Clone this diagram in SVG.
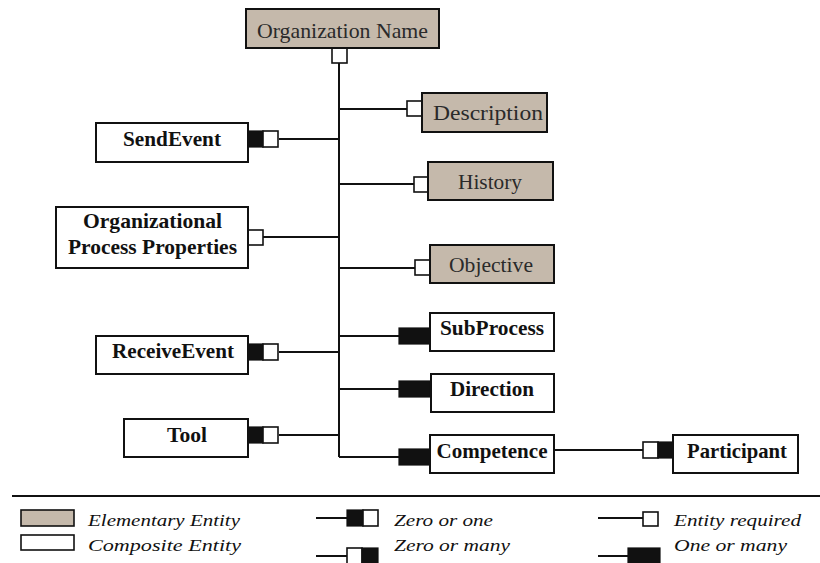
<svg xmlns="http://www.w3.org/2000/svg" width="820" height="563" viewBox="0 0 820 563">
  <style>
    .elem { fill: #c5b9ab; stroke: #111; stroke-width: 2; }
    .comp { fill: #fff; stroke: #111; stroke-width: 2; }
    .open { fill: #fff; stroke: #111; stroke-width: 1.6; }
    .solid { fill: #111; stroke: #111; stroke-width: 1.2; }
    .wire { stroke: #111; stroke-width: 2; fill: none; }
    .lbl { font-family: 'Liberation Serif', Tinos, 'Times New Roman', Times, serif; font-size: 22px; fill: #2a2a2a; text-anchor: middle; }
    .blbl { font-family: 'Liberation Serif', Tinos, 'Times New Roman', Times, serif; font-size: 21px; font-weight: bold; fill: #111; text-anchor: middle; }
    .key { font-family: 'Liberation Serif', Tinos, 'Times New Roman', Times, serif; font-size: 16px; font-style: italic; fill: #111; }
  </style>

  <!-- connectors -->
  <g id="connectors">
    <path class="wire" d="M339 63 V457"/>
    <path class="wire" d="M339 109 H407"/>
    <path class="wire" d="M279 139 H339"/>
    <path class="wire" d="M339 184 H414"/>
    <path class="wire" d="M263 237 H339"/>
    <path class="wire" d="M339 268 H415"/>
    <path class="wire" d="M339 336 H399"/>
    <path class="wire" d="M279 352 H339"/>
    <path class="wire" d="M339 389 H399"/>
    <path class="wire" d="M279 435 H339"/>
    <path class="wire" d="M339 457 H399"/>
    <path class="wire" d="M554 450 H643"/>
    <!-- cardinality marks -->
    <rect class="open" x="332" y="48" width="15" height="15"/>
    <rect class="open" x="407" y="101" width="15" height="15"/>
    <rect class="solid" x="248" y="131" width="15" height="16"/>
    <rect class="open" x="263" y="131" width="15" height="16"/>
    <rect class="open" x="414" y="177" width="14" height="15"/>
    <rect class="open" x="248" y="230" width="15" height="15"/>
    <rect class="open" x="415" y="260" width="15" height="15"/>
    <rect class="solid" x="399" y="328" width="31" height="16"/>
    <rect class="solid" x="248" y="344" width="15" height="16"/>
    <rect class="open" x="263" y="344" width="15" height="16"/>
    <rect class="solid" x="399" y="381" width="31" height="16"/>
    <rect class="solid" x="248" y="427" width="15" height="16"/>
    <rect class="open" x="263" y="427" width="15" height="16"/>
    <rect class="solid" x="399" y="449" width="31" height="16"/>
    <rect class="open" x="643" y="442" width="15" height="16"/>
    <rect class="solid" x="658" y="442" width="15" height="16"/>
  </g>

  <g id="organization-name">
    <rect class="elem" x="246" y="9" width="193" height="39"/>
    <text class="lbl" x="342.5" y="37.5" textLength="171" lengthAdjust="spacingAndGlyphs">Organization Name</text>
  </g>
  <g id="description">
    <rect class="elem" x="422" y="93" width="125" height="39"/>
    <text class="lbl" x="488" y="119.5" textLength="110" lengthAdjust="spacingAndGlyphs">Description</text>
  </g>
  <g id="history">
    <rect class="elem" x="428" y="162" width="125" height="38"/>
    <text class="lbl" x="490" y="188.5" textLength="64" lengthAdjust="spacingAndGlyphs">History</text>
  </g>
  <g id="objective">
    <rect class="elem" x="430" y="245" width="124" height="38"/>
    <text class="lbl" x="491" y="271.5" textLength="84" lengthAdjust="spacingAndGlyphs">Objective</text>
  </g>
  <g id="subprocess">
    <rect class="comp" x="430" y="313" width="124" height="38"/>
    <text class="blbl" x="492" y="334.5" textLength="104" lengthAdjust="spacingAndGlyphs">SubProcess</text>
  </g>
  <g id="direction">
    <rect class="comp" x="431" y="374" width="123" height="38"/>
    <text class="blbl" x="492" y="395.5" textLength="84" lengthAdjust="spacingAndGlyphs">Direction</text>
  </g>
  <g id="competence">
    <rect class="comp" x="430" y="435" width="124" height="38"/>
    <text class="blbl" x="492" y="457.5" textLength="111" lengthAdjust="spacingAndGlyphs">Competence</text>
  </g>
  <g id="participant">
    <rect class="comp" x="673" y="435" width="125" height="38"/>
    <text class="blbl" x="737" y="457.5" textLength="100" lengthAdjust="spacingAndGlyphs">Participant</text>
  </g>
  <g id="send-event">
    <rect class="comp" x="96" y="123" width="152" height="39"/>
    <text class="blbl" x="172" y="145.5" textLength="98" lengthAdjust="spacingAndGlyphs">SendEvent</text>
  </g>
  <g id="organizational-process-properties">
    <rect class="comp" x="56" y="207" width="192" height="61"/>
    <text class="blbl" x="152.5" y="227.5" textLength="139" lengthAdjust="spacingAndGlyphs">Organizational</text>
    <text class="blbl" x="152.5" y="253.5" textLength="169" lengthAdjust="spacingAndGlyphs">Process Properties</text>
  </g>
  <g id="receive-event">
    <rect class="comp" x="96" y="336" width="152" height="38"/>
    <text class="blbl" x="173" y="357.5" textLength="122" lengthAdjust="spacingAndGlyphs">ReceiveEvent</text>
  </g>
  <g id="tool">
    <rect class="comp" x="124" y="419" width="124" height="38"/>
    <text class="blbl" x="187" y="441.5" textLength="40" lengthAdjust="spacingAndGlyphs">Tool</text>
  </g>

  <!-- key -->
  <g id="legend">
    <path class="wire" d="M12 496 H820"/>
    <rect class="elem" x="21" y="510" width="53" height="16" style="stroke-width:1.6"/>
    <text class="key" x="88" y="526" textLength="152" lengthAdjust="spacingAndGlyphs">Elementary Entity</text>
    <rect class="comp" x="21" y="535" width="53" height="15" style="stroke-width:1.6"/>
    <text class="key" x="88" y="551" textLength="153" lengthAdjust="spacingAndGlyphs">Composite Entity</text>

    <path class="wire" d="M316 518 H347"/>
    <rect class="solid" x="347" y="510" width="16" height="16"/>
    <rect class="open" x="363" y="510" width="15" height="16"/>
    <text class="key" x="394" y="526" textLength="99" lengthAdjust="spacingAndGlyphs">Zero or one</text>
    <path class="wire" d="M316 556 H347"/>
    <rect class="open" x="347" y="548" width="15" height="16"/>
    <rect class="solid" x="362" y="548" width="16" height="16"/>
    <text class="key" x="394" y="551" textLength="116" lengthAdjust="spacingAndGlyphs">Zero or many</text>

    <path class="wire" d="M598 518 H643"/>
    <rect class="open" x="643" y="512" width="15" height="14"/>
    <text class="key" x="674" y="526" textLength="127" lengthAdjust="spacingAndGlyphs">Entity required</text>
    <path class="wire" d="M598 556 H628"/>
    <rect class="solid" x="628" y="548" width="32" height="16"/>
    <text class="key" x="674" y="551" textLength="113" lengthAdjust="spacingAndGlyphs">One or many</text>
  </g>
</svg>
